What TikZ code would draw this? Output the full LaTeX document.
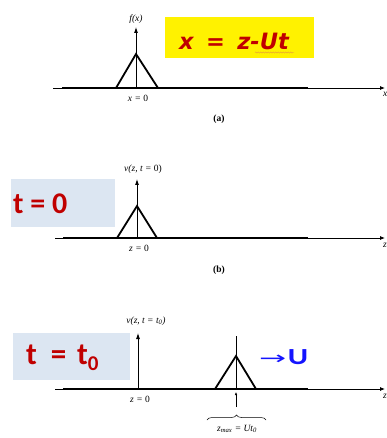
\documentclass[tikz,border=0pt]{standalone}
\usepackage{graphicx}
\usepackage{fontspec}
\setmainfont{Liberation Serif}
\newfontfamily\calib{Carlito}
\newfontfamily\dejav{DejaVu Sans}
\usetikzlibrary{arrows.meta,decorations.pathreplacing,decorations.pathmorphing}
\definecolor{tred}{RGB}{192,0,0}
\definecolor{tblue}{RGB}{20,20,255}
\definecolor{boxblue}{RGB}{220,230,242}
\definecolor{squig}{RGB}{230,150,60}
\begin{document}
\begin{tikzpicture}[x=1pt,y=-1pt,
  axis/.style={line width=0.8pt,-{Latex[length=5pt,width=4pt]}},
  heavy/.style={line width=1.6pt},
  tri/.style={line width=1.8pt,line join=miter},
  vaxis/.style={line width=0.8pt,-{Latex[length=6pt,width=4pt]}},
  lab/.style={font=\fontsize{9.5}{10}\selectfont\itshape,inner sep=0pt},
  captxt/.style={font=\fontsize{9.5}{10}\selectfont\bfseries,inner sep=0pt},
  bigred/.style={font=\calib\bfseries\fontsize{30}{32}\selectfont,text=tred,inner sep=0pt}]
\useasboundingbox (0,0) rectangle (387,438);
% ---------- panel (a)
\node[fill=yellow,minimum width=149pt,minimum height=41pt,inner sep=0pt] (ybox) at (239.5,37.5) {};
\node[font=\dejav\bfseries\itshape\fontsize{22.5}{24}\selectfont,text=tred,inner sep=0pt] (eq) at (234,41) {x\hspace{0.55em}=\hspace{0.55em}z-Ut};
\coordinate (sq0) at (255,52.5); \coordinate (sq1) at (294,52.5);
\draw[squig,line width=0.4pt,decorate,decoration={snake,amplitude=0.6pt,segment length=2.5pt}] (sq0) -- (sq1);
\coordinate (a0) at (53,88); \coordinate (a1) at (385,88);
\draw[axis] (a0) -- (a1);
\coordinate (ah0) at (62,88); \coordinate (ah1) at (308,88);
\draw[heavy] (ah0) -- (ah1);
\coordinate (al) at (116,88); \coordinate (ap) at (136,54); \coordinate (ar) at (158,88);
\draw[tri] (al) -- (ap) -- (ar);
\coordinate (ao) at (136,88); \coordinate (atop) at (136,27);
\draw[vaxis] (ao) -- (atop);
\node[lab] (fx) at (136,19) {f(x)};
\node[lab] (x0) at (138,98) {x = \upshape 0};
\node[lab,anchor=west] (xe) at (383,94) {x};
\node[captxt] (capa) at (219,119) {(a)};
% ---------- panel (b)
\node[fill=boxblue,minimum width=104pt,minimum height=48pt,inner sep=0pt] (bbox) at (63,203) {};
\node[bigred,anchor=west] (t0) at (13,204) {t = 0};
\coordinate (b0) at (55,238); \coordinate (b1) at (385,238);
\draw[axis] (b0) -- (b1);
\coordinate (bh0) at (63,238); \coordinate (bh1) at (308,238);
\draw[heavy] (bh0) -- (bh1);
\coordinate (bl) at (117,238); \coordinate (bp) at (137,206); \coordinate (br) at (157,238);
\draw[tri] (bl) -- (bp) -- (br);
\coordinate (bo) at (137,238); \coordinate (btop) at (137,179);
\draw[vaxis] (bo) -- (btop);
\node[lab] (vb) at (143,169) {v(z, t = \upshape 0)};
\node[lab] (z0b) at (139,248) {z = \upshape 0};
\node[lab,anchor=west] (ze) at (383,245) {z};
\node[captxt] (capb) at (219,270) {(b)};
% ---------- panel (c)
\node[fill=boxblue,minimum width=117pt,minimum height=47pt,inner sep=0pt] (cbox) at (71.5,356.5) {};
\node[bigred,anchor=west,font=\calib\bfseries\fontsize{31}{32}\selectfont] (tt0) at (26,358) {t\hspace{0.45em}=\hspace{0.35em}t\raisebox{-6pt}{\fontsize{21}{22}\selectfont 0}};
\coordinate (c0) at (55,389); \coordinate (c1) at (385,389);
\draw[axis] (c0) -- (c1);
\coordinate (ch0) at (63,389); \coordinate (ch1) at (308,389);
\draw[heavy] (ch0) -- (ch1);
\coordinate (cl) at (215,389); \coordinate (cp) at (236,356); \coordinate (cr) at (256,389);
\draw[tri] (cl) -- (cp) -- (cr);
\coordinate (cv) at (236,389); \coordinate (cvt) at (236,336);
\draw[line width=0.8pt] (cv) -- (cvt);
\coordinate (co) at (138,389); \coordinate (ctop) at (138,333);
\draw[vaxis] (co) -- (ctop);
\node[lab] (vc) at (146,321) {v(z, t = t\textsubscript{0})};
\node[lab] (z0c) at (140,399) {z = \upshape 0};
\node[lab,anchor=west] (ze2) at (383,396) {z};
\coordinate (ua) at (236,407); \coordinate (ub) at (236,392);
\draw[line width=0.5pt,-{Latex[length=3pt,width=2.5pt]}] (ua) -- (ub);
\coordinate (br1) at (207,420); \coordinate (br2) at (266,420);
\draw[line width=0.5pt,decorate,decoration={brace,amplitude=5pt}] (br1) -- (br2);
\node[lab] (zm) at (237,429) {z\textsubscript{max} = Ut\textsubscript{0}};
\node[text=tblue,inner sep=0pt,anchor=west] (uu) at (259,357) {\scalebox{1.8}[1]{\dejav\fontsize{18}{20}\selectfont →}\kern1.5pt\scalebox{1.35}[1]{\calib\bfseries\fontsize{23}{24}\selectfont U}};
\end{tikzpicture}
\end{document}
